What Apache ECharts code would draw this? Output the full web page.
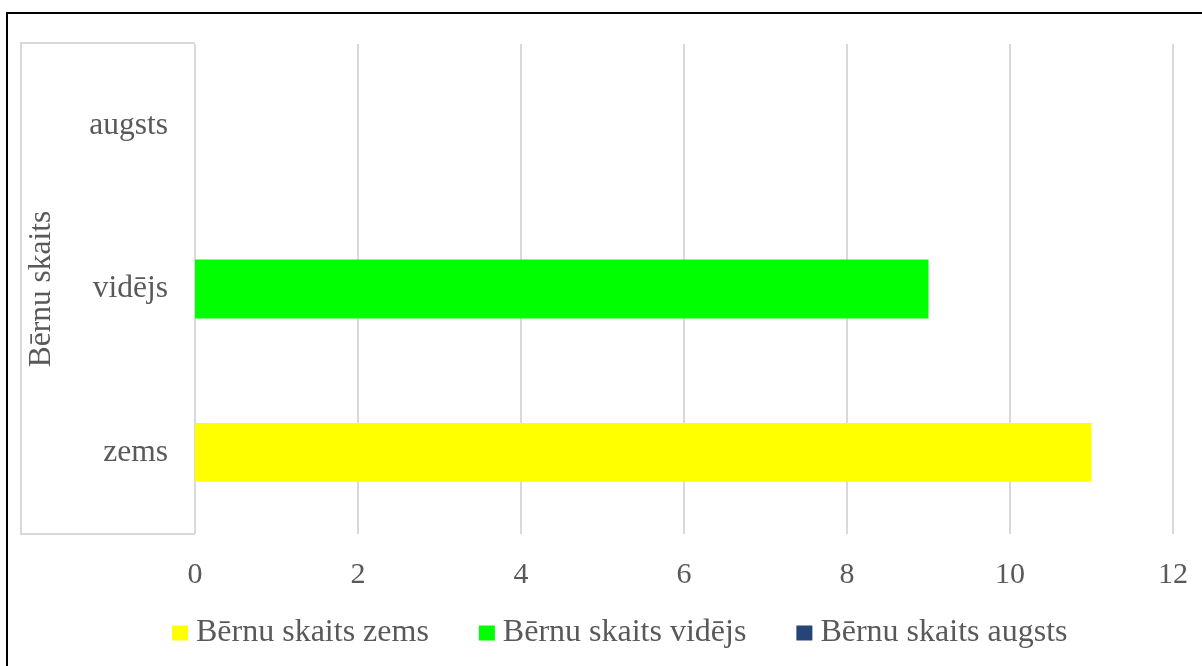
<!DOCTYPE html>
<html>
<head>
<meta charset="utf-8">
<script src="https://cdn.jsdelivr.net/npm/echarts@6/dist/echarts.min.js"></script>
<style>
  html, body { margin: 0; padding: 0; background: #fff; }
  #chart { width: 1202px; height: 666px; }
</style>
</head>
<body>
<div id="chart"></div>
<script>
var categories = ['zems', 'vidējs', 'augsts']
var seriesNames = ['Bērnu skaits zems', 'Bērnu skaits vidējs', 'Bērnu skaits augsts']
var zemsValues = [11, '-', '-']
var videjsValues = ['-', 9, '-']
var augstsValues = ['-', '-', 0]
var colors = ['#ffff00', '#00ff00', '#264478']
var axisName = 'Bērnu skaits'

var font = '"Liberation Serif", "Times New Roman", serif'
var textColor = '#595959'
var gridColor = '#d9d9d9'

var myChart = echarts.init(document.getElementById('chart'))

function bar(name, data, color) {
  return {
    name: name,
    type: 'bar',
    stack: 'total',
    barWidth: '36%',
    itemStyle: { color: color },
    data: data
  }
}

var option = {
  animation: false,
  textStyle: { fontFamily: font },
  grid: { left: 195, right: 29, top: 44, bottom: 132 },
  legend: {
    left: 167,
    top: 612,
    itemWidth: 16,
    itemHeight: 15,
    itemGap: 50,
    icon: 'rect',
    textStyle: { fontFamily: font, fontSize: 32, color: textColor, padding: [0, 0, 0, 3] },
    data: seriesNames
  },
  xAxis: {
    type: 'value',
    min: 0,
    max: 12,
    interval: 2,
    axisLine: { show: false },
    axisTick: { show: false },
    splitLine: { lineStyle: { color: gridColor, width: 2 } },
    axisLabel: { fontFamily: font, fontSize: 30, color: textColor, margin: 26 }
  },
  yAxis: {
    type: 'category',
    data: categories,
    name: axisName,
    nameLocation: 'middle',
    nameGap: 137,
    nameRotate: 90,
    nameTextStyle: { fontFamily: font, fontSize: 31.5, color: textColor },
    axisLine: { show: false },
    axisTick: { show: false },
    axisLabel: { fontFamily: font, fontSize: 31.5, color: textColor, margin: 27 }
  },
  graphic: [
    { type: 'rect', shape: { x: 7, y: 13, width: 1220, height: 680 },
      style: { fill: 'none', stroke: '#000', lineWidth: 2 } },
    { type: 'polyline', shape: { points: [[195, 43], [21, 43], [21, 534], [195, 534]] },
      style: { fill: 'none', stroke: gridColor, lineWidth: 2 } }
  ],
  series: [
    bar(seriesNames[0], zemsValues, colors[0]),
    bar(seriesNames[1], videjsValues, colors[1]),
    bar(seriesNames[2], augstsValues, colors[2])
  ]
}
myChart.setOption(option)
</script>
</body>
</html>
